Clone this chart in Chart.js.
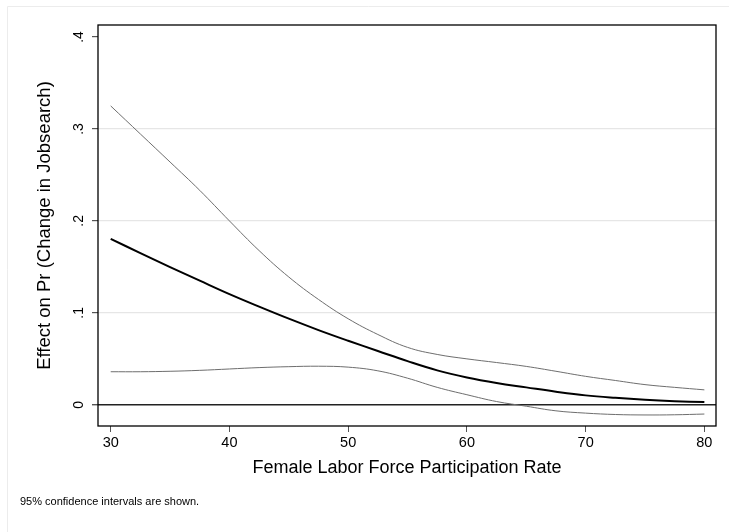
<!DOCTYPE html>
<html>
<head>
<meta charset="utf-8">
<script src="https://cdn.jsdelivr.net/npm/chart.js@4.4.1/dist/chart.umd.min.js"></script>
<style>
  html, body { margin: 0; padding: 0; background: #fff; }
  #wrap { width: 729px; height: 532px; position: relative; }
</style>
</head>
<body>
<div id="wrap"><canvas id="c" width="729" height="532"></canvas></div>
<script>
const xValues = [30, 32.5, 35, 37.5, 40, 42.5, 45, 47.5, 50, 52.5, 55, 57.5, 60, 62.5, 65, 67.5, 70, 72.5, 75, 77.5, 80];
const effect = [0.1804, 0.1650, 0.1498, 0.1350, 0.1204, 0.1068, 0.0937, 0.0813, 0.0697, 0.0586, 0.0475, 0.0375, 0.0298, 0.0238, 0.0190, 0.0143, 0.0103, 0.0076, 0.0055, 0.0040, 0.0030];
const upperCI = [0.325, 0.2945, 0.264, 0.2332, 0.200, 0.1677, 0.139, 0.1146, 0.0936, 0.0765, 0.0625, 0.0548, 0.050, 0.046, 0.0418, 0.0365, 0.031, 0.0265, 0.022, 0.019, 0.0163];
const lowerCI = [0.036, 0.036, 0.0365, 0.0375, 0.039, 0.0405, 0.0415, 0.042, 0.041, 0.037, 0.029, 0.019, 0.011, 0.0036, -0.0015, -0.0065, -0.009, -0.0105, -0.011, -0.0108, -0.010];
const xTicks = [30, 40, 50, 60, 70, 80];
const yTicks = [0, 0.1, 0.2, 0.3, 0.4];
const yTickLabels = ['0', '.1', '.2', '.3', '.4'];
const xTitle = 'Female Labor Force Participation Rate';
const yTitle = 'Effect on Pr (Change in Jobsearch)';
const noteText = '95% confidence intervals are shown.';

const toPts = (ys) => xValues.map((x, i) => ({x: x, y: ys[i]}));

const FONT = '"Liberation Sans", Arial, Helvetica, sans-serif';

const decor = {
  id: 'decor',
  beforeDraw(chart) {
    const ctx = chart.ctx;
    ctx.save();
    ctx.fillStyle = '#fff';
    ctx.fillRect(0, 0, chart.width, chart.height);
    ctx.strokeStyle = '#ececec';
    ctx.lineWidth = 1;
    ctx.beginPath();
    ctx.moveTo(7.5, chart.height + 2);
    ctx.lineTo(7.5, 6.5);
    ctx.lineTo(chart.width + 2, 6.5);
    ctx.stroke();
    ctx.restore();
  },
  afterDraw(chart) {
    const ctx = chart.ctx;
    const a = chart.chartArea;
    const ys = chart.scales.y;
    ctx.save();
    ctx.strokeStyle = '#000';
    ctx.lineWidth = 1.3;
    ctx.strokeRect(a.left, a.top, a.right - a.left, a.bottom - a.top);
    // rotated y tick labels
    ctx.fillStyle = '#000';
    ctx.font = '14px ' + FONT;
    ctx.textAlign = 'center';
    ctx.textBaseline = 'middle';
    yTicks.forEach((v, i) => {
      const py = ys.getPixelForValue(v);
      ctx.save();
      ctx.translate(a.left - 19, py);
      ctx.rotate(-Math.PI / 2);
      ctx.fillText(yTickLabels[i], 0, 0);
      ctx.restore();
    });
    // note
    ctx.font = '11px ' + FONT;
    ctx.textAlign = 'left';
    ctx.textBaseline = 'middle';
    ctx.fillText(noteText, 20, 502);
    ctx.restore();
  }
};

const lineDs = (vals, color, width) => ({
  data: toPts(vals), borderColor: color, borderWidth: width, pointRadius: 0,
  tension: 0.4, cubicInterpolationMode: 'default', fill: false
});

new Chart(document.getElementById('c'), {
  type: 'line',
  data: {
    datasets: [
      lineDs(upperCI, '#6e6e6e', 1),
      lineDs(lowerCI, '#6e6e6e', 1),
      lineDs(effect, '#000', 2)
    ]
  },
  options: {
    responsive: false,
    animation: false,
    devicePixelRatio: 1,
    layout: { padding: { left: 0, top: 25, right: 13, bottom: 0 } },
    plugins: { legend: { display: false }, tooltip: { enabled: false } },
    scales: {
      x: {
        type: 'linear',
        min: 28.93,
        max: 80.98,
        afterBuildTicks: (s) => { s.ticks = xTicks.map(v => ({value: v})); },
        afterFit: (s) => { s.height = 106; },
        border: { display: false },
        grid: { drawOnChartArea: false, color: '#555', tickColor: '#555', tickLength: 6, lineWidth: 1 },
        ticks: { color: '#000', font: { family: FONT, size: 14.5 }, padding: 2, maxRotation: 0, autoSkip: false,
                 callback: (v) => String(v) },
        title: { display: true, text: xTitle, color: '#000', font: { family: FONT, size: 18 }, padding: { top: 0, bottom: 53 } }
      },
      y: {
        type: 'linear',
        min: -0.023,
        max: 0.413,
        afterBuildTicks: (s) => { s.ticks = yTicks.map(v => ({value: v})); },
        afterFit: (s) => { s.width = 98; },
        border: { display: false },
        grid: {
          drawOnChartArea: true,
          color: (c) => {
            const v = c.tick ? c.tick.value : null;
            if (v === 0) return '#222';
            if (v === 0.4) return 'rgba(0,0,0,0)';
            return '#e6e6e6';
          },
          lineWidth: (c) => (c.tick && c.tick.value === 0) ? 1.4 : 1.2,
          tickColor: '#555',
          tickLength: 6
        },
        ticks: { display: false },
        title: { display: true, text: yTitle, color: '#000', font: { family: FONT, size: 18.5 }, padding: { top: 34, bottom: 0 } }
      }
    }
  },
  plugins: [decor]
});
</script>
</body>
</html>
